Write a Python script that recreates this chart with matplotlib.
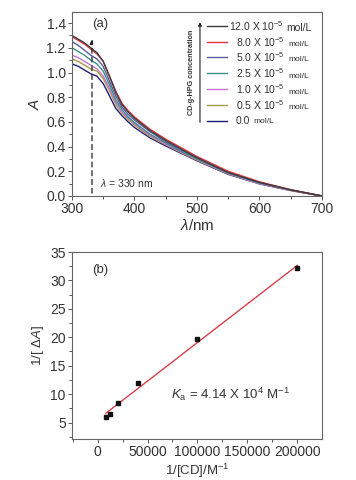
import numpy as np
import matplotlib
matplotlib.use('Agg')
import matplotlib.pyplot as plt
from matplotlib.ticker import MultipleLocator, FormatStrFormatter

plt.rcParams['font.family'] = ['Liberation Sans', 'DejaVu Sans']
plt.rcParams['mathtext.fontset'] = 'custom'
plt.rcParams['mathtext.rm'] = 'Liberation Sans'
plt.rcParams['mathtext.it'] = 'Liberation Sans:italic'

# (a) absorption spectra, one curve per CD-g-HPG concentration
wl = [300, 310, 320, 330, 340, 350, 360, 370, 380, 390, 400,
      425, 450, 475, 500, 550, 600, 650, 700]
A_120 = [1.30, 1.27, 1.24, 1.20, 1.16, 1.09, 0.97, 0.84, 0.74, 0.68, 0.63,
         0.53, 0.45, 0.38, 0.31, 0.19, 0.11, 0.05, 0.00]
A_80 = [1.29, 1.26, 1.23, 1.19, 1.15, 1.09, 0.97, 0.85, 0.75, 0.69, 0.64,
        0.54, 0.46, 0.39, 0.32, 0.20, 0.115, 0.05, 0.00]
A_50 = [1.25, 1.22, 1.18, 1.14, 1.11, 1.05, 0.93, 0.81, 0.72, 0.66, 0.615,
        0.52, 0.44, 0.37, 0.31, 0.19, 0.11, 0.05, 0.00]
A_25 = [1.20, 1.17, 1.14, 1.10, 1.07, 1.01, 0.90, 0.78, 0.70, 0.64, 0.595,
        0.50, 0.43, 0.36, 0.30, 0.185, 0.105, 0.048, 0.00]
A_10 = [1.14, 1.12, 1.09, 1.06, 1.03, 0.97, 0.87, 0.76, 0.68, 0.63, 0.585,
        0.49, 0.42, 0.355, 0.295, 0.18, 0.10, 0.046, 0.00]
A_05 = [1.11, 1.09, 1.06, 1.03, 1.01, 0.95, 0.85, 0.74, 0.67, 0.62, 0.575,
        0.48, 0.415, 0.35, 0.29, 0.178, 0.10, 0.045, 0.00]
A_00 = [1.07, 1.05, 1.02, 0.99, 0.97, 0.91, 0.81, 0.71, 0.65, 0.60, 0.555,
        0.47, 0.405, 0.345, 0.285, 0.175, 0.098, 0.044, 0.00]
conc = ['12.0', '8.0', '5.0', '2.5', '1.0', '0.5', '0.0']
colors = ['#3c3c3c', '#e8343c', '#5a5a9c', '#3a8f8a', '#c474cc', '#a89a44', '#1e1e7a']

# (b) double reciprocal plot
inv_cd = [8333, 12500, 20000, 40000, 100000, 200000]
inv_dA = [5.95, 6.5, 8.45, 11.9, 19.7, 32.2]

txt_col = '#333333'
fig = plt.figure(figsize=(3.56, 4.8), dpi=100)
ax1 = fig.add_axes([0.2022, 0.5917, 0.7022, 0.3833])
ax2 = fig.add_axes([0.2022, 0.0854, 0.7022, 0.3896])

for ax in (ax1, ax2):
    for s in ax.spines.values():
        s.set_color('#666666')
        s.set_linewidth(0.8)
    ax.tick_params(which='both', direction='out', top=False, right=False,
                   labelsize=10, colors='#555555', labelcolor=txt_col,
                   length=3, width=0.7, pad=1.5)
    ax.tick_params(which='minor', length=2)

# --- panel (a)
curves = [A_120, A_80, A_50, A_25, A_10, A_05, A_00]
for c, col in list(zip(curves, colors))[::-1]:
    ax1.plot(wl, c, color=col, lw=1.0)
ax1.set_xlim(300, 700)
ax1.set_ylim(0, 1.49)
ax1.xaxis.set_major_locator(MultipleLocator(100))
ax1.xaxis.set_minor_locator(MultipleLocator(50))
ax1.yaxis.set_major_locator(MultipleLocator(0.2))
ax1.yaxis.set_minor_locator(MultipleLocator(0.1))
ax1.yaxis.set_major_formatter(FormatStrFormatter('%.1f'))
ax1.set_xlabel(r'$\it{\lambda}$/nm', fontsize=11, color=txt_col, labelpad=1)
ax1.set_ylabel(r'$\it{A}$', fontsize=11, color=txt_col, labelpad=3)
ax1.text(0.08, 0.92, '(a)', transform=ax1.transAxes, fontsize=9.5, color=txt_col)

# dashed line and arrow at 330 nm
ax1.annotate('', xy=(332, 1.29), xytext=(332, 0.0),
             arrowprops=dict(arrowstyle='-|>', color='#222222', lw=0.9,
                             linestyle=(0, (4, 3)), mutation_scale=6))
ax1.text(345, 0.105, r'$\it{\lambda}$ = 330 nm', fontsize=7.5, color=txt_col,
         va='center')

# legend drawn by hand
rows_y = [0.925, 0.837, 0.754, 0.666, 0.579, 0.495, 0.410]
for cl, col, y in zip(conc, colors, rows_y):
    ax1.plot([0.54, 0.62], [y, y], color=col, lw=1.0, transform=ax1.transAxes)
    x0 = 0.63 if len(cl) == 4 else 0.655
    if cl == '0.0':
        t = ax1.text(x0, y, '0.0', transform=ax1.transAxes, fontsize=7.5,
                     va='center', color=txt_col)
    else:
        t = ax1.text(x0, y, cl + r' X 10$^{-5}$', transform=ax1.transAxes,
                     fontsize=7.5, va='center', color=txt_col)
    big = (cl == '12.0')
    ax1.annotate('mol/L', xy=(1, 0), xycoords=t, xytext=(2 if big else 2.5, 0 if big else 0.5),
                 textcoords='offset points', fontsize=7.5 if big else 6,
                 va='bottom', ha='left', color=txt_col)
ax1.annotate('', xy=(0.512, 0.96), xytext=(0.512, 0.385), xycoords='axes fraction',
             arrowprops=dict(arrowstyle='-|>', color='#222222', lw=0.8,
                             mutation_scale=5))
ax1.text(0.48, 0.67, 'CD-g-HPG concentration', transform=ax1.transAxes,
         rotation=90, fontsize=5.2, fontweight='bold', va='center', ha='center',
         color=txt_col)

# --- panel (b)
slope, icpt = np.polyfit(inv_cd, inv_dA, 1)
xf = np.array([inv_cd[0], inv_cd[-1]])
ax2.plot(xf, icpt + slope * xf, color='#d8404a', lw=1.0)
ax2.plot(inv_cd, inv_dA, 's', color='#111111', ms=3.2)
ax2.set_xlim(-25600, 224600)
ax2.set_ylim(2.1, 35)
ax2.xaxis.set_major_locator(MultipleLocator(50000))
ax2.xaxis.set_minor_locator(MultipleLocator(25000))
ax2.yaxis.set_major_locator(MultipleLocator(5))
ax2.yaxis.set_minor_locator(MultipleLocator(2.5))
ax2.set_xlabel(r'1/[CD]/M$^{-1}$', fontsize=9.5, color=txt_col, labelpad=2)
ax2.set_ylabel(r'1/[ $\Delta\it{A}$]', fontsize=9.5, color=txt_col, labelpad=3)
ax2.text(0.08, 0.89, '(b)', transform=ax2.transAxes, fontsize=9.5, color=txt_col)
ax2.text(74000, 10.0, r'$\it{K}_\mathregular{a}$ = 4.14 X 10$^{4}$ M$^{-1}$',
         fontsize=9.5, va='center', color=txt_col)

fig.savefig('out.png', dpi=100)
